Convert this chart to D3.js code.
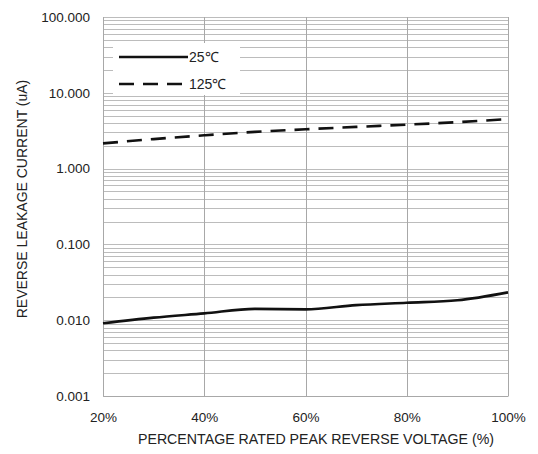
<!DOCTYPE html>
<html><head><meta charset="utf-8">
<script src="https://cdn.jsdelivr.net/npm/d3@7"></script>
<style>body{margin:0;background:#fff}svg{display:block}text{font-family:"Liberation Sans",Arial,sans-serif;fill:#222}</style>
</head><body><svg id="c" width="538" height="454"></svg>
<script>
const xValues = [20, 30, 40, 50, 60, 70, 80, 90, 100];
const series25 = [0.0091, 0.0108, 0.0123, 0.0141, 0.0139, 0.0158, 0.0170, 0.0183, 0.0233];
const series125 = [2.15, 2.45, 2.75, 3.05, 3.3, 3.55, 3.8, 4.1, 4.5];
const xTicks = [20, 40, 60, 80, 100];
const xTickLabels = ["20%", "40%", "60%", "80%", "100%"];
const yTicks = [0.001, 0.01, 0.1, 1, 10, 100];
const yTickLabels = ["0.001", "0.010", "0.100", "1.000", "10.000", "100.000"];
const seriesNames = ["25\u2103", "125\u2103"];

const W = 538, H = 454, m = {l:103, r:30, t:17, b:58};
const svg = d3.select("#c");
const x = d3.scaleLinear().domain([20,100]).range([m.l, W-m.r]);
const y = d3.scaleLog().domain([0.001,100]).range([H-m.b, m.t]);

// minor + major horizontal grid
const hLines = [];
for (let e=-3; e<2; e++) for (let k=1; k<10; k++) hLines.push(k*Math.pow(10,e));
hLines.push(100);
svg.append("g").selectAll("line").data(hLines).join("line")
  .attr("x1", x(20)).attr("x2", x(100))
  .attr("y1", d=>Math.round(y(d))+0.5).attr("y2", d=>Math.round(y(d))+0.5)
  .attr("stroke", "#bcbcbc").attr("stroke-width", 1);
svg.append("g").selectAll("line").data(xTicks).join("line")
  .attr("x1", d=>Math.round(x(d))+0.5).attr("x2", d=>Math.round(x(d))+0.5)
  .attr("y1", y(100)).attr("y2", y(0.001))
  .attr("stroke", "#a8a8a8").attr("stroke-width", 1);

// axes
const font = '"Liberation Sans",Arial,sans-serif';
const xAxis = svg.append("g").attr("transform", `translate(0,${y(0.001)})`)
  .call(d3.axisBottom(x).tickValues(xTicks).tickSize(0).tickPadding(16).tickFormat((d,i)=>xTickLabels[i]));
xAxis.select(".domain").attr("stroke", "#a8a8a8");
xAxis.selectAll("text").attr("font-size", 13.5).style("font-family", font).attr("fill", "#222");
const yAxis = svg.append("g").attr("transform", `translate(${x(20)},0)`)
  .call(d3.axisLeft(y).tickValues(yTicks).tickSize(0).tickPadding(13).tickFormat((d,i)=>yTickLabels[i]));
yAxis.select(".domain").attr("stroke", "#a8a8a8");
yAxis.selectAll("text").attr("font-size", 13.5).style("font-family", font).attr("fill", "#222");

// legend box
svg.append("rect").attr("x", 113).attr("y", 43).attr("width", 127).attr("height", 52).attr("fill", "#fff");

const line = d3.line().x((d,i)=>x(xValues[i])).y(d=>y(d)).curve(d3.curveMonotoneX);
svg.append("path").datum(series125).attr("d", line).attr("fill","none")
  .attr("stroke","#111").attr("stroke-width",2.6).attr("stroke-dasharray","15,9");
svg.append("path").datum(series25).attr("d", line).attr("fill","none")
  .attr("stroke","#111").attr("stroke-width",2.6);

// legend
const lg = svg.append("g");
lg.append("line").attr("x1",119).attr("x2",188).attr("y1",57).attr("y2",57).attr("stroke","#111").attr("stroke-width",2.4);
lg.append("line").attr("x1",119).attr("x2",188).attr("y1",84).attr("y2",84).attr("stroke","#111").attr("stroke-width",2.4).attr("stroke-dasharray","15,9");
lg.append("text").attr("x",189).attr("y",62).attr("font-size",14).text(seriesNames[0]);
lg.append("text").attr("x",189).attr("y",89).attr("font-size",14).text(seriesNames[1]);

// axis titles
svg.append("text").attr("x", 316).attr("y", 444).attr("text-anchor","middle").attr("font-size",14.2)
  .text("PERCENTAGE RATED PEAK REVERSE VOLTAGE (%)");
svg.append("text").attr("transform","translate(27,199) rotate(-90)").attr("text-anchor","middle").attr("font-size",14)
  .text("REVERSE LEAKAGE CURRENT (uA)");
</script></body></html>
